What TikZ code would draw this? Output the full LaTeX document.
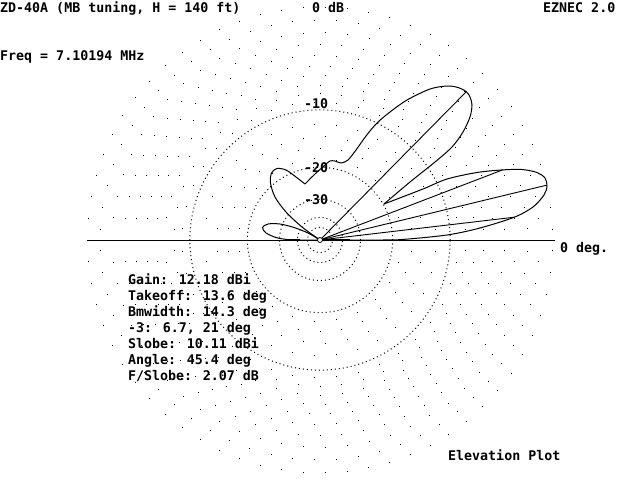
\documentclass[tikz,border=0pt]{standalone}
\usepackage{fontspec}
\newfontfamily\vga{DejaVu Sans Mono}
\begin{document}
\begin{tikzpicture}[x=1pt,y=-1pt,
  lbl/.style={anchor=base west,inner sep=0pt,font=\vga\bfseries\fontsize{13.3}{16}\selectfont},
  densedot/.style={line width=1pt,dash pattern=on 1pt off 3pt},
  pat/.style={line width=1pt,line join=round},
  ray/.style={line width=0.9pt}]
\useasboundingbox (0,0) rectangle (640,480);
\fill[white] (0,0) rectangle (640,480);
\coordinate (c) at (320,240);
% sparse grid circles (dots about 22 px apart)
\foreach \r/\ph in {233/0.5,219.8/0,207.4/0.5,195.6/0,184.6/0.5,174.1/0,164.3/0.5,155.0/0,146.2/0.5,138.0/0,115.9/0.5,103.2/0,91.8/0.5,81.7/0}{
  \pgfmathtruncatemacro{\nd}{round(2*pi*\r/22)}
  \foreach \k in {1,...,\nd}{
    \pgfmathsetmacro{\ang}{(\k-\ph)/\nd*360}
    \fill[black] (c) ++(\ang:\r pt) ++(-0.5pt,-0.5pt) rectangle ++(1pt,1pt);
  }
}
% dense circles -10 ... -50 dB
\foreach \r in {130.1,72.65,40.57,22.65,12.65}{
  \draw[densedot] (c) circle[radius=\r pt];
}
% axis
\coordinate (axL) at (87,240);
\coordinate (axR) at (555,240);
\draw[line width=1pt] (axL) -- (axR);
% rays
\coordinate (pmax) at (546.5,185.2);
\coordinate (p3a) at (502.6,169.9);
\coordinate (p3b) at (514.3,217.2);
\coordinate (psl) at (466.3,91.7);
\draw[ray] (c) -- (pmax);
\draw[ray] (c) -- (p3a);
\draw[ray] (c) -- (p3b);
\draw[ray] (c) -- (psl);
% pattern: main lobe
\draw[pat] plot[smooth,tension=0.5] coordinates {(320,240) (350,240) (380,240) (402,239.5) (447,235) (480,228) (514.3,217.2) (533,207) (544,195) (547,186) (545,178) (537,172.5) (522,169.5) (502.6,169.9) (477,172.5) (447,179) (423,189) (384,204)};
% second lobe
\draw[pat] plot[smooth,tension=0.5] coordinates {(384,204) (410,182) (435,162) (452,147) (463,132) (470,117) (472,105) (470,97) (466.3,91.7) (458,87.5) (447,86) (430,89) (407,100) (390,112) (377,123) (366,136) (356,150) (348,160) (341,163) (335,161) (330,161) (325,165) (315,174) (305,184)};
% high-angle lobe
\draw[pat] plot[smooth,tension=0.5] coordinates {(305,184) (296,177) (286,170) (277,168.5) (271.5,173) (270.5,183) (275,197) (286,212) (302,227) (320,240)};
% back lobe
\draw[pat] plot[smooth,tension=0.5] coordinates {(320,240) (308,233) (294,227.5) (280,224) (268,224) (262.5,227.5) (266,233) (276,237.5) (287,239.5) (300,240) (320,240)};
\draw[line width=1.5pt] (285,240) -- (300,240);
\draw[line width=1.5pt] (320,240) -- (350,240);
\draw[line width=0.8pt,fill=white] (c) circle[radius=2.5pt];
% texts
\node[lbl] (title) at (0,12) {ZD-40A (MB tuning, H = 140 ft)};
\node[lbl] (odb) at (312,12) {0 dB};
\node[lbl] (ver) at (543,12) {EZNEC 2.0};
\node[lbl] (freq) at (0,60) {Freq = 7.10194 MHz};
\node[lbl] (m10) at (304,108) {-10};
\node[lbl] (m20) at (304,172) {-20};
\node[lbl] (m30) at (304,204) {-30};
\node[lbl] (zdeg) at (560,252) {0 deg.};
\node[lbl] (s1) at (128,284) {Gain: 12.18 dBi};
\node[lbl] (s2) at (128,300) {Takeoff: 13.6 deg};
\node[lbl] (s3) at (128,316) {Bmwidth: 14.3 deg};
\node[lbl] (s4) at (128,332) {-3: 6.7, 21 deg};
\node[lbl] (s5) at (128,348) {Slobe: 10.11 dBi};
\node[lbl] (s6) at (128,364) {Angle: 45.4 deg};
\node[lbl] (s7) at (128,380) {F/Slobe: 2.07 dB};
\node[lbl] (ep) at (448,460) {Elevation Plot};
\end{tikzpicture}
\end{document}
